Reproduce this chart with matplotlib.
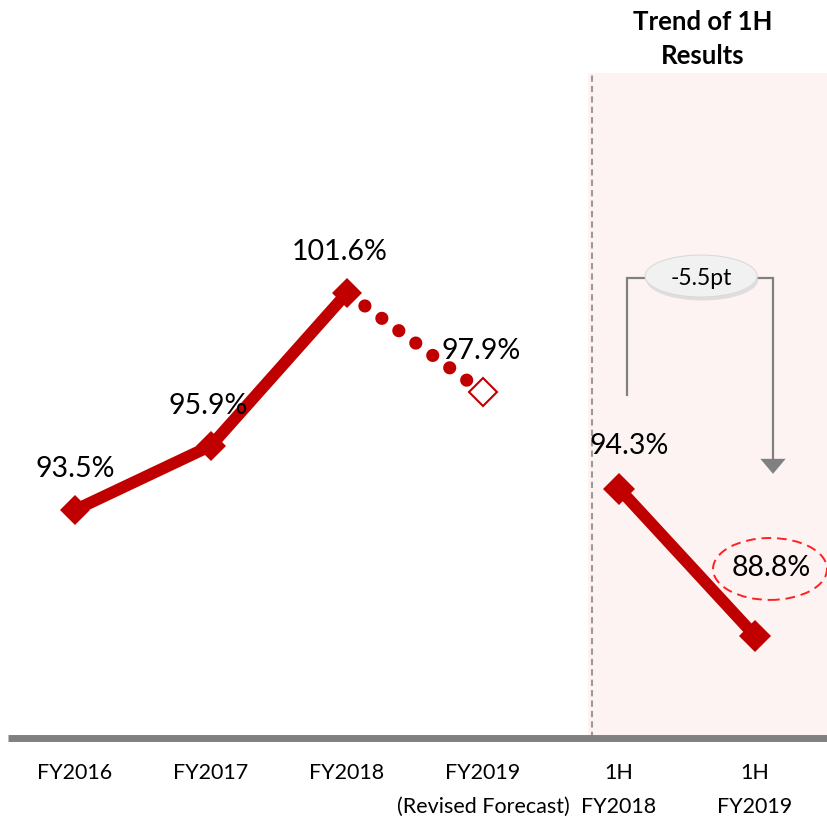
import matplotlib
matplotlib.use("Agg")
import matplotlib.pyplot as plt
from matplotlib.patches import Rectangle, Ellipse, Polygon

plt.rcParams['font.family'] = ['Lato', 'DejaVu Sans']

# ---- data ----
categories = ["FY2016", "FY2017", "FY2018", "FY2019\n(Revised Forecast)", "1H\nFY2018", "1H\nFY2019"]
annual_values = [93.5, 95.9, 101.6]      # actual full-year results
forecast_value = 97.9                     # FY2019 revised forecast
half_values = [94.3, 88.8]                # first-half results
change_label = "-5.5pt"
panel_title = "Trend of 1H\nResults"

RED = "#C00000"
GRAY = "#808080"

fig = plt.figure(figsize=(8.27, 8.21), dpi=100)
ax = fig.add_axes([0, 0, 1, 1])
ax.set_xlim(-0.5515, 5.529)
ax.set_ylim(81.896, 112.53)
ax.axis("off")

# shaded first-half panel
panel_left = 3.772
panel_top = 109.81
base = 85.0
ax.add_patch(Rectangle((panel_left, base), 3, panel_top - base,
                       facecolor="#FEF3F3", edgecolor="none", zorder=0))
ax.plot([3.80, 3.80], [base, panel_top], color="#9A9A9A", lw=1.5,
        dashes=(3, 2), zorder=1)

# baseline
ax.plot([-0.4926, 5.6], [base, base], color=GRAY, lw=5,
        solid_capstyle="butt", zorder=2)

x_annual = list(range(len(annual_values)))
x_fc = len(annual_values)
x_half = [x_fc + 1, x_fc + 2]

# annual solid line
ax.plot(x_annual, annual_values, color=RED, lw=8.5, solid_capstyle="butt",
        marker="D", ms=15.5, mew=0, zorder=4)
# dotted forecast segment
ax.plot([x_annual[-1], x_fc], [annual_values[-1], forecast_value], color=RED,
        lw=9.5, linestyle=(1.506, (0.001, 1.59)), dash_capstyle="round", zorder=3)
ax.plot([x_fc], [forecast_value], marker="D", ms=14, mfc="white", mec=RED,
        mew=1.5, linestyle="none", zorder=5)
# first-half line
ax.plot(x_half, half_values, color=RED, lw=8.5, solid_capstyle="butt",
        marker="D", ms=16, mew=0, zorder=4)

# value labels
label_kw = dict(textcoords="offset points", ha="center", va="baseline",
                fontsize=20.5, color="black", zorder=6)
offsets = [(0, 24), (-2, 23), (-5, 24)]
for xi, v, off in zip(x_annual, annual_values, offsets):
    ax.annotate(f"{v:.1f}%", (xi, v), xytext=off, **label_kw)
ax.annotate(f"{forecast_value:.1f}%", (x_fc, forecast_value), xytext=(-1.5, 24), **label_kw)
ax.annotate(f"{half_values[0]:.1f}%", (x_half[0], half_values[0]), xytext=(7, 25), **label_kw)
ax.annotate(f"{half_values[1]:.1f}%", (x_half[1], half_values[1]), xytext=(12, 43), **label_kw)

# dashed highlight around the latest result
ax.add_patch(Ellipse((5.110, 91.30), 0.838, 2.31, facecolor="none",
                     edgecolor="#FF2020", lw=1.4, linestyle=(0, (5, 3)), zorder=6))

# change bracket
bx_left, bx_right = 4.059, 5.132
by_top, by_left_bottom, by_tip = 102.16, 97.79, 94.85
ax.plot([bx_left, bx_left, bx_right, bx_right],
        [by_left_bottom, by_top, by_top, by_tip + 0.5],
        color=GRAY, lw=1.6, solid_joinstyle="miter", zorder=5)
ax.add_patch(Polygon([[bx_right - 0.093, by_tip + 0.56], [bx_right + 0.093, by_tip + 0.56],
                      [bx_right, by_tip]], closed=True, facecolor=GRAY,
                     edgecolor="none", zorder=5))
# bubble with shadow
ax.add_patch(Ellipse((4.612, 102.10), 0.824, 1.567, facecolor="#CFCFCF",
                     edgecolor="none", alpha=0.6, zorder=6))
ax.add_patch(Ellipse((4.603, 102.23), 0.824, 1.567, facecolor="#F1F1F1",
                     edgecolor="#DADADA", lw=0.8, zorder=7))
ax.text(4.603, 102.23, change_label, ha="center", va="center_baseline",
        fontsize=16.5, color="black", zorder=8)

# panel title
title_lines = panel_title.split("\n")
ax.text(4.618, 111.41, title_lines[0], ha="center", va="baseline",
        fontsize=18.5, fontweight="bold", color="black")
ax.text(4.618, 110.14, title_lines[1], ha="center", va="baseline",
        fontsize=18.5, fontweight="bold", color="black")

# category labels
line_y = [83.46, 82.19]
for xi, lab in enumerate(categories):
    for k, part in enumerate(lab.split("\n")):
        ax.text(xi, line_y[k], part, ha="center", va="baseline",
                fontsize=15.5, color="black")

fig.savefig("out.png", dpi=100)
